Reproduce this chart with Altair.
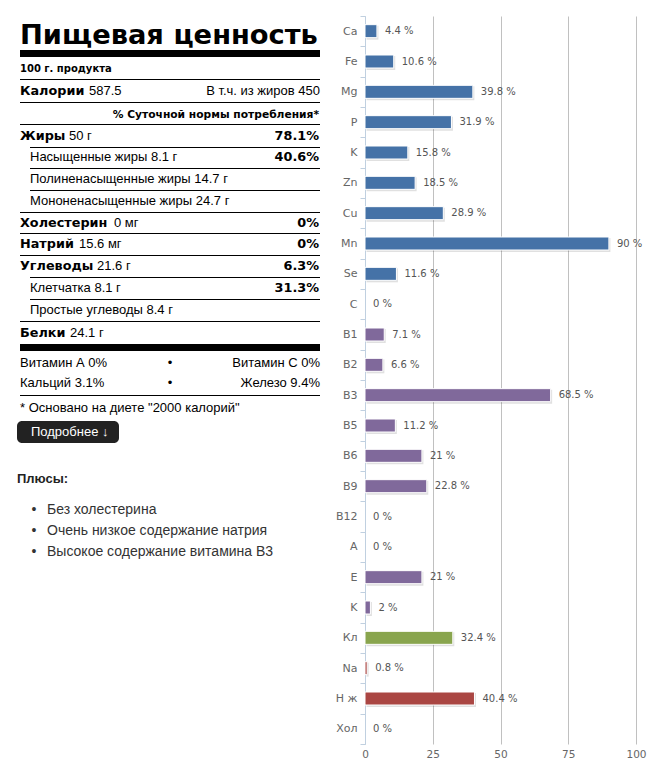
import altair as alt
import pandas as pd

# ---------------- bar chart data ----------------
nutrients = ["Ca", "Fe", "Mg", "P", "K", "Zn", "Cu", "Mn", "Se",
             "C", "B1", "B2", "B3", "B5", "B6", "B9", "B12", "A", "E", "K",
             "Кл", "Na", "Н ж", "Хол"]
percent = [4.4, 10.6, 39.8, 31.9, 15.8, 18.5, 28.9, 90, 11.6,
           0, 7.1, 6.6, 68.5, 11.2, 21, 22.8, 0, 0, 21, 2,
           32.4, 0.8, 40.4, 0]
groups = ["min"] * 9 + ["vit"] * 11 + ["fib"] + ["lim"] * 3
group_domain = ["min", "vit", "fib", "lim"]
group_colors = ["#4572A7", "#80699B", "#89A54E", "#AA4643"]
x_ticks = [0, 25, 50, 75, 100]

# ---------------- nutrition label texts ----------------
title_text = "Пищевая ценность"
serving_text = "100 г. продукта"
calories_label, calories_value = "Калории", "587.5"
calories_fat = "В т.ч. из жиров 450"
dv_header = "% Суточной нормы потребления*"
main_labels = ["Жиры", "Холестерин", "Натрий", "Углеводы", "Белки"]
main_amounts = ["50 г", "0 мг", "15.6 мг", "21.6 г", "24.1 г"]
sub_labels = ["Насыщенные жиры 8.1 г", "Полиненасыщенные жиры 14.7 г",
              "Мононенасыщенные жиры 24.7 г", "Клетчатка 8.1 г",
              "Простые углеводы 8.4 г"]
dv_values = ["78.1%", "40.6%", "0%", "0%", "6.3%", "31.3%"]
vit_left = ["Витамин А 0%", "Кальций 3.1%"]
vit_right = ["Витамин С 0%", "Железо 9.4%"]
footnote = '* Основано на диете "2000 калорий"'
button_text = "Подробнее ↓"
pros_title = "Плюсы:"
pros = ["Без холестерина", "Очень низкое содержание натрия",
        "Высокое содержание витамина B3"]

# ---------------- layout (page pixels) ----------------
OX, OY = 8, 16
L, LI, R = 20, 30, 319
main_y = [136, 223, 244, 266, 333]
main_amount_x = [69, 114, 79, 97, 70]
sub_y = [157, 179, 201, 288, 310]
dv_y = [136, 157, 223, 244, 266, 288]
vit_y = [363, 383]
thin_rules = [(79.5, L), (102.5, L), (124.5, L), (147.5, LI), (168.5, LI),
              (190.5, LI), (212.5, L), (233.5, L), (255.5, L), (277.5, LI),
              (299.5, LI), (321.5, L), (395.5, L)]
thick_rules = [(50, 57), (344, 351)]
pros_y = [510, 531, 552]

XS = alt.X("x:Q", scale=None, axis=None)
YS = alt.Y("y:Q", scale=None, axis=None)


def text_layer(texts, xs, ys, **kw):
    df = pd.DataFrame({"t": texts, "x": [x - OX for x in xs], "y": [y - OY for y in ys]})
    return alt.Chart(df).mark_text(**kw).encode(x=XS, y=YS, text="t:N")


BOLD = dict(font="DejaVu Sans", fontWeight="bold", color="#000")
REG = dict(font="Liberation Sans", fontSize=13, color="#000")

layers = []
layers.append(text_layer([title_text], [L], [43.5], align="left", baseline="alphabetic",
                         fontSize=27.3, **BOLD))
layers.append(text_layer([serving_text], [L], [69], align="left", baseline="middle",
                         fontSize=10, **BOLD))
layers.append(text_layer([dv_header], [R], [115], align="right", baseline="middle",
                         fontSize=10.7, **BOLD))
layers.append(text_layer([calories_label] + main_labels, [L] * 6, [91] + main_y,
                         align="left", baseline="middle", fontSize=12.8, **BOLD))
layers.append(text_layer([calories_value] + main_amounts, [89] + main_amount_x, [91] + main_y,
                         align="left", baseline="middle", **REG))
layers.append(text_layer(sub_labels, [LI] * 5, sub_y, align="left", baseline="middle", **REG))
layers.append(text_layer(dv_values, [R] * 6, dv_y, align="right", baseline="middle",
                         fontSize=12.8, **BOLD))
layers.append(text_layer([calories_fat] + vit_right, [320] * 3, [91] + vit_y,
                         align="right", baseline="middle", **REG))
layers.append(text_layer(vit_left, [L] * 2, vit_y, align="left", baseline="middle", **REG))
layers.append(text_layer(["•", "•"], [170, 170], vit_y, align="center", baseline="middle", **REG))
layers.append(text_layer([footnote], [L], [408], align="left", baseline="middle", **REG))

# rules
rules_df = pd.DataFrame({"x": [x - OX for _, x in thin_rules],
                         "x2": [320 - OX] * len(thin_rules),
                         "y": [y - OY for y, _ in thin_rules]})
layers.append(alt.Chart(rules_df).mark_rule(color="#000", strokeWidth=1).encode(
    x=XS, x2="x2:Q", y=YS))
thick_df = pd.DataFrame({"x": [L - OX] * 2, "x2": [320 - OX] * 2,
                         "y": [a - OY for a, _ in thick_rules],
                         "y2": [b - OY for _, b in thick_rules]})
layers.append(alt.Chart(thick_df).mark_rect(color="#000").encode(
    x=XS, x2="x2:Q", y=YS, y2="y2:Q"))

# button
btn_df = pd.DataFrame({"x": [17 - OX], "x2": [119 - OX], "y": [421 - OY], "y2": [443 - OY]})
layers.append(alt.Chart(btn_df).mark_rect(color="#222", cornerRadius=5).encode(
    x=XS, x2="x2:Q", y=YS, y2="y2:Q"))
layers.append(text_layer([button_text], [31], [432], align="left", baseline="middle",
                         font="Liberation Sans", fontSize=13, color="#fff"))

# pros
layers.append(text_layer([pros_title], [17], [479], align="left", baseline="middle",
                         font="Liberation Sans", fontSize=13, fontWeight="bold", color="#222"))
layers.append(text_layer(["•"] * 3, [34] * 3, pros_y, align="center", baseline="middle",
                         font="Liberation Sans", fontSize=14, color="#333"))
layers.append(text_layer(pros, [47] * 3, pros_y, align="left", baseline="middle",
                         font="Liberation Sans", fontSize=14, color="#333"))

left = alt.layer(*layers).properties(width=312, height=728)

# ---------------- bar chart ----------------
df = pd.DataFrame({
    "idx": list(range(len(nutrients))),
    "name": nutrients,
    "value": percent,
    "group": groups,
    "label": [f"{v:g} %" for v in percent],
})

label_expr = "[" + ",".join("'" + n + "'" for n in nutrients) + "][datum.value]"

y_enc = alt.Y("idx:O", title=None,
              scale=alt.Scale(paddingInner=0, paddingOuter=0),
              axis=alt.Axis(labelExpr=label_expr, tickBand="extent", tickSize=5,
                            tickColor="#C0D0E0", domainColor="#C0D0E0", labelPadding=3,
                            labelColor="#666", labelFont="DejaVu Sans", labelFontSize=11,
                            grid=False))
x_enc = alt.X("value:Q", title=None,
              scale=alt.Scale(domain=[0, 100], nice=False, padding=0, zero=True),
              axis=alt.Axis(values=x_ticks, grid=True, gridColor="#C0C0C0", domain=False,
                            ticks=False, tickSize=0, labelPadding=5, labelColor="#666",
                            labelFlush=False, labelFont="DejaVu Sans", labelFontSize=10.5))

base = alt.Chart(df)
shadow = base.transform_filter("datum.value > 0").mark_bar(
    size=14, color="#000", opacity=0.12, xOffset=1.5, yOffset=1.5).encode(
    x=x_enc, y=y_enc)
bars = base.transform_filter("datum.value > 0").mark_bar(
    size=13, stroke="#fff", strokeWidth=1).encode(
    x="value:Q", y="idx:O",
    color=alt.Color("group:N", scale=alt.Scale(domain=group_domain, range=group_colors),
                    legend=None))
labels = base.mark_text(align="left", baseline="middle", dx=8, font="DejaVu Sans",
                        fontSize=10, color="#555").encode(
    x="value:Q", y="idx:O", text="label:N")

right = alt.layer(shadow, bars, labels).properties(width=271, height=728)

chart = alt.hconcat(left, right, spacing=45, bounds="flush").properties(
    padding={"left": 0, "top": 2, "right": 0, "bottom": 0}
).configure_view(stroke=None)

chart.save("out.html", embed_options={"renderer": "svg", "actions": False})
